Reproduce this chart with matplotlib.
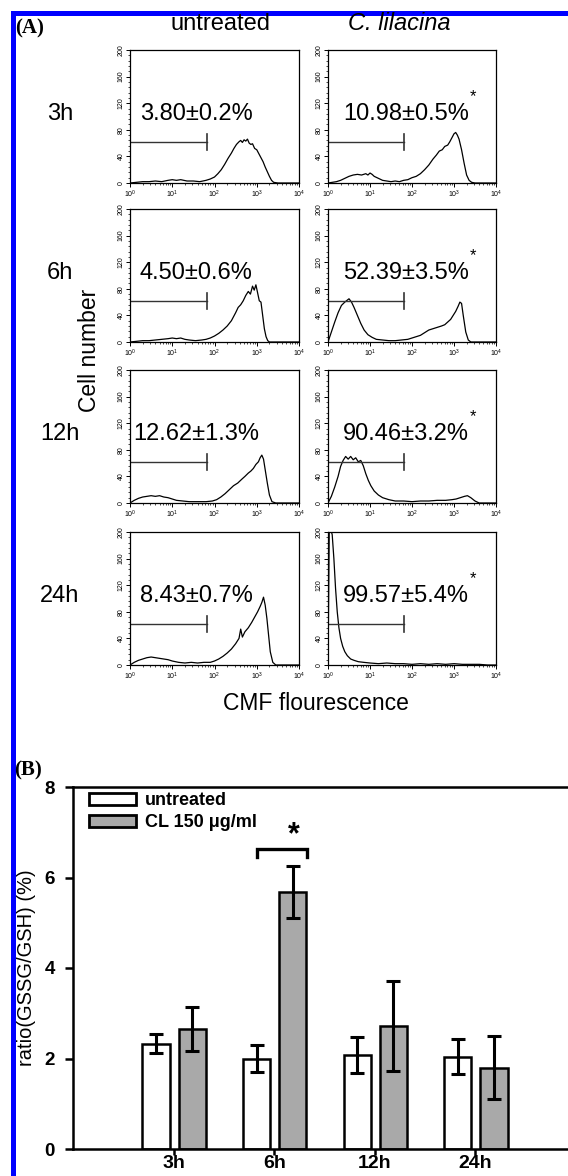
import matplotlib
matplotlib.use('Agg')
import matplotlib.pyplot as plt
from matplotlib.patches import Patch, Rectangle
from matplotlib.ticker import MultipleLocator, LogLocator, FixedLocator, NullFormatter
import numpy as np

plt.rcParams['font.family'] = ['Liberation Sans', 'DejaVu Sans']

# ---------------- data: panel A (flow cytometry histograms) ----------------
row_labels = ['3h', '6h', '12h', '24h']
col_titles = ['untreated', 'C. lilacina']
pct_ctrl = ['3.80±0.2%', '4.50±0.6%', '12.62±1.3%', '8.43±0.7%']
pct_cl = ['10.98±0.5%', '52.39±3.5%', '90.46±3.2%', '99.57±5.4%']

# log10(CMF fluorescence) and cell counts
h3_ctrl_lx = [0.00,0.15,0.30,0.45,0.60,0.75,0.90,1.00,1.10,1.20,1.35,1.50,1.65,1.80,1.90,2.00,2.08,2.16,2.24,2.32,2.40,2.46,2.52,2.58,2.62,2.66,2.70,2.74,2.78,2.82,2.86,2.90,2.95,3.00,3.05,3.10,3.15,3.20,3.25,3.30,3.35,3.40,3.50,4.00]
h3_ctrl_n = [0,1,2,2,3,2,4,5,4,5,3,3,2,4,6,9,14,20,28,37,45,52,58,62,64,61,65,63,66,60,58,59,52,50,44,38,32,24,17,10,4,1,0,0]

h3_cl_lx = [0.00,0.10,0.20,0.30,0.40,0.50,0.60,0.70,0.80,0.90,0.95,1.00,1.05,1.10,1.20,1.30,1.40,1.50,1.60,1.70,1.80,1.90,2.00,2.10,2.20,2.30,2.40,2.50,2.58,2.65,2.72,2.78,2.85,2.90,2.95,3.00,3.04,3.08,3.12,3.18,3.24,3.30,3.36,3.42,3.50,4.00]
h3_cl_n = [0,1,2,4,7,10,12,13,12,14,12,15,13,10,7,4,3,2,3,2,4,5,8,10,14,20,27,36,42,48,50,55,57,62,68,74,76,72,66,50,30,12,4,1,0,0]

h6_ctrl_lx = [0.00,0.15,0.30,0.45,0.60,0.75,0.90,1.00,1.10,1.20,1.30,1.40,1.55,1.70,1.80,1.90,2.00,2.10,2.20,2.30,2.40,2.50,2.56,2.62,2.68,2.74,2.80,2.85,2.90,2.94,2.98,3.02,3.06,3.10,3.14,3.18,3.22,3.26,3.30,3.40,4.00]
h6_ctrl_n = [0,1,2,2,3,4,5,6,5,6,4,3,2,3,4,6,9,13,18,24,32,44,52,56,62,70,76,72,84,78,86,74,62,60,40,20,8,2,0,0,0]

h6_cl_lx = [0.00,0.08,0.16,0.24,0.32,0.40,0.46,0.50,0.56,0.62,0.70,0.78,0.86,0.95,1.05,1.15,1.30,1.45,1.60,1.75,1.90,2.00,2.10,2.20,2.30,2.40,2.50,2.60,2.70,2.78,2.85,2.92,2.98,3.04,3.10,3.14,3.18,3.22,3.28,3.34,3.40,4.00]
h6_cl_n = [0,15,30,44,55,60,63,65,60,52,40,28,18,11,7,4,3,2,2,3,4,6,8,10,14,18,20,22,24,26,30,34,40,46,54,60,58,40,15,3,0,0]

h12_ctrl_lx = [0.00,0.10,0.20,0.30,0.40,0.50,0.60,0.70,0.80,0.90,1.00,1.10,1.25,1.40,1.60,1.80,1.95,2.05,2.15,2.25,2.35,2.45,2.55,2.65,2.72,2.80,2.86,2.92,2.98,3.04,3.08,3.12,3.16,3.20,3.25,3.30,3.36,3.45,4.00]
h12_ctrl_n = [0,4,7,9,10,11,10,11,9,8,6,4,3,2,2,2,3,5,9,14,20,26,30,36,40,45,48,52,58,62,68,72,66,50,30,12,2,0,0]

h12_cl_lx = [0.00,0.08,0.16,0.24,0.30,0.36,0.42,0.48,0.54,0.60,0.66,0.72,0.78,0.84,0.90,0.96,1.02,1.10,1.20,1.30,1.45,1.60,1.80,2.00,2.20,2.40,2.60,2.80,2.95,3.05,3.15,3.25,3.32,3.40,3.50,3.60,4.00]
h12_cl_n = [0,10,24,40,55,64,70,66,70,65,68,62,64,56,44,34,26,18,12,8,5,3,3,2,3,3,4,4,5,6,8,10,11,8,3,0,0]

h24_ctrl_lx = [0.00,0.10,0.20,0.30,0.40,0.50,0.60,0.70,0.80,0.90,1.00,1.15,1.30,1.45,1.60,1.75,1.90,2.00,2.10,2.20,2.30,2.40,2.50,2.58,2.62,2.66,2.72,2.80,2.88,2.95,3.02,3.08,3.12,3.16,3.20,3.24,3.28,3.32,3.38,3.45,4.00]
h24_ctrl_n = [0,4,7,9,11,12,11,10,9,8,6,4,3,4,3,4,4,6,9,13,18,24,32,40,54,42,50,56,64,72,80,88,94,102,90,70,45,20,4,0,0]

h24_cl_lx = [0.00,0.03,0.06,0.10,0.14,0.18,0.22,0.26,0.30,0.35,0.40,0.46,0.54,0.62,0.72,0.85,1.00,1.20,1.40,1.60,1.80,2.00,2.20,2.40,2.60,2.80,3.00,3.20,3.40,3.60,3.80,4.00]
h24_cl_n = [0,205,205,196,160,115,80,56,40,28,20,14,9,7,5,4,3,2,3,2,2,1,2,1,2,1,2,1,1,1,0,0]

gate_lo, gate_hi, gate_y, gate_cap = 1.0, 66.0, 62.0, 12.0

# ---------------- data: panel B ----------------
times = ['3h', '6h', '12h', '24h']
ratio_ctrl = [2.33, 2.00, 2.08, 2.04]
err_ctrl = [0.21, 0.30, 0.40, 0.39]
ratio_cl = [2.65, 5.68, 2.72, 1.80]
err_cl = [0.48, 0.58, 1.00, 0.70]
legend_labels = ['untreated', 'CL 150 μg/ml']

# ---------------- layout helpers ----------------
W, H = 568.0, 1176.0
fig = plt.figure(figsize=(W / 100, H / 100), dpi=100)
fig.patch.set_facecolor('white')


def rect(l, t, r, b):
    return [l / W, 1 - b / H, (r - l) / W, (b - t) / H]


def ftext(x, y, s, **kw):
    return fig.text(x / W, 1 - y / H, s, **kw)


# blue frame (top and left)
fig.add_artist(Rectangle((11 / W, 0), 4.5 / W, 1 - 11 / H, transform=fig.transFigure,
                         facecolor='#0000ff', edgecolor='none', zorder=0))
fig.add_artist(Rectangle((11 / W, 1 - 15.5 / H), (W - 11) / W, 4.5 / H, transform=fig.transFigure,
                         facecolor='#0000ff', edgecolor='none', zorder=0))

# ---------------- panel A ----------------
ftext(15, 28, '(A)', family='Liberation Serif', fontweight='bold', fontsize=15, ha='left', va='center')
ftext(221, 24, col_titles[0], fontsize=17, ha='center', va='center')
ftext(399, 24, col_titles[1], fontsize=17, ha='center', va='center', fontstyle='italic')

row_tops = [50, 209, 370, 532]
row_h = 133
cols = [(130, 299), (328, 496)]
hists = [
    [(h3_ctrl_lx, h3_ctrl_n), (h3_cl_lx, h3_cl_n)],
    [(h6_ctrl_lx, h6_ctrl_n), (h6_cl_lx, h6_cl_n)],
    [(h12_ctrl_lx, h12_ctrl_n), (h12_cl_lx, h12_cl_n)],
    [(h24_ctrl_lx, h24_ctrl_n), (h24_cl_lx, h24_cl_n)],
]
pcts = [pct_ctrl, pct_cl]

for i, top in enumerate(row_tops):
    ftext(60, top + 64, row_labels[i], fontsize=17, ha='center', va='center')
    for j, (l, r) in enumerate(cols):
        ax = fig.add_axes(rect(l, top, r, top + row_h))
        lx, n = hists[i][j]
        ax.plot(10 ** np.asarray(lx), n, color='black', lw=0.9)
        ax.set_xscale('log')
        ax.set_xlim(1, 1e4)
        ax.set_ylim(0, 200)
        # gate marker
        ax.plot([gate_lo, gate_hi], [gate_y, gate_y], color='#333333', lw=1.0)
        ax.plot([gate_lo, gate_lo], [gate_y - gate_cap, gate_y + gate_cap], color='#333333', lw=1.2)
        ax.plot([gate_hi, gate_hi], [gate_y - gate_cap, gate_y + gate_cap], color='#333333', lw=1.2)
        ax.yaxis.set_major_locator(FixedLocator([0, 40, 80, 120, 160, 200]))
        ax.yaxis.set_minor_locator(MultipleLocator(8))
        ax.xaxis.set_major_locator(LogLocator(base=10, numticks=10))
        ax.xaxis.set_minor_locator(LogLocator(base=10, subs=np.arange(2, 10), numticks=10))
        ax.xaxis.set_minor_formatter(NullFormatter())
        ax.tick_params(axis='both', which='major', labelsize=5, length=3, width=0.7, direction='out', pad=1)
        ax.tick_params(axis='both', which='minor', length=1.5, width=0.5, direction='out')
        for lab in ax.get_yticklabels():
            lab.set_rotation(90)
            lab.set_va('center')
        for s in ax.spines.values():
            s.set_linewidth(0.9)
        cx = 196 if j == 0 else 406
        ftext(cx, top + 64, pcts[j][i], fontsize=17, ha='center', va='center')
        if j == 1:
            ftext(473, top + 47, '*', fontsize=12, ha='center', va='center')

ftext(90, 350, 'Cell number', fontsize=16.5, rotation=90, ha='center', va='center')
ftext(316, 703, 'CMF flourescence', fontsize=16.5, ha='center', va='center')

# ---------------- panel B ----------------
ftext(14, 770, '(B)', family='Liberation Serif', fontweight='bold', fontsize=15, ha='left', va='center')

axb = fig.add_axes(rect(73, 787, 600, 1149))
x = np.arange(len(times))
bw = 0.27
axb.bar(x - 0.175, ratio_ctrl, width=bw, color='white', edgecolor='black', linewidth=1.8, zorder=2)
axb.bar(x + 0.185, ratio_cl, width=bw, color='#a9a9a9', edgecolor='black', linewidth=1.8, zorder=2)
axb.errorbar(x - 0.175, ratio_ctrl, yerr=err_ctrl, fmt='none', ecolor='black', elinewidth=2.2,
             capsize=5, capthick=2.2, zorder=3)
axb.errorbar(x + 0.185, ratio_cl, yerr=err_cl, fmt='none', ecolor='black', elinewidth=2.2,
             capsize=5, capthick=2.2, zorder=3)
axb.set_xlim(-1, -1 + 527 / 100.6)
axb.set_ylim(0, 8)
axb.set_xticks(x)
axb.set_xticklabels(times, fontweight='bold', fontsize=14)
axb.set_yticks([0, 2, 4, 6, 8])
axb.set_yticklabels(['0', '2', '4', '6', '8'], fontweight='bold', fontsize=13.5)
axb.tick_params(axis='y', length=6, width=1.8, pad=7)
axb.tick_params(axis='x', length=4, width=1.8, pad=0)
for s in axb.spines.values():
    s.set_linewidth(1.8)

# significance bracket and star
axb.plot([0.83, 0.83, 1.33, 1.33], [6.45, 6.63, 6.63, 6.45], color='black', lw=2.4,
         solid_joinstyle='miter', zorder=3)
axb.text(1.19, 6.93, '*', fontsize=22, fontweight='bold', ha='center', va='center')

handles = [Patch(facecolor='white', edgecolor='black', linewidth=2),
           Patch(facecolor='#a9a9a9', edgecolor='black', linewidth=2)]
axb.legend(handles, legend_labels, loc='upper left', bbox_to_anchor=(0.0304, 0.985),
           frameon=False, prop={'weight': 'bold', 'size': 13}, handlelength=2.6, handleheight=0.66,
           handletextpad=0.5, labelspacing=0.25, borderaxespad=0, borderpad=0)

fig.text(27 / W, 1 - 968 / H, 'ratio(GSSG/GSH) (%)', fontsize=14.5, rotation=90, ha='center', va='center')

fig.savefig('out.png', dpi=100)
